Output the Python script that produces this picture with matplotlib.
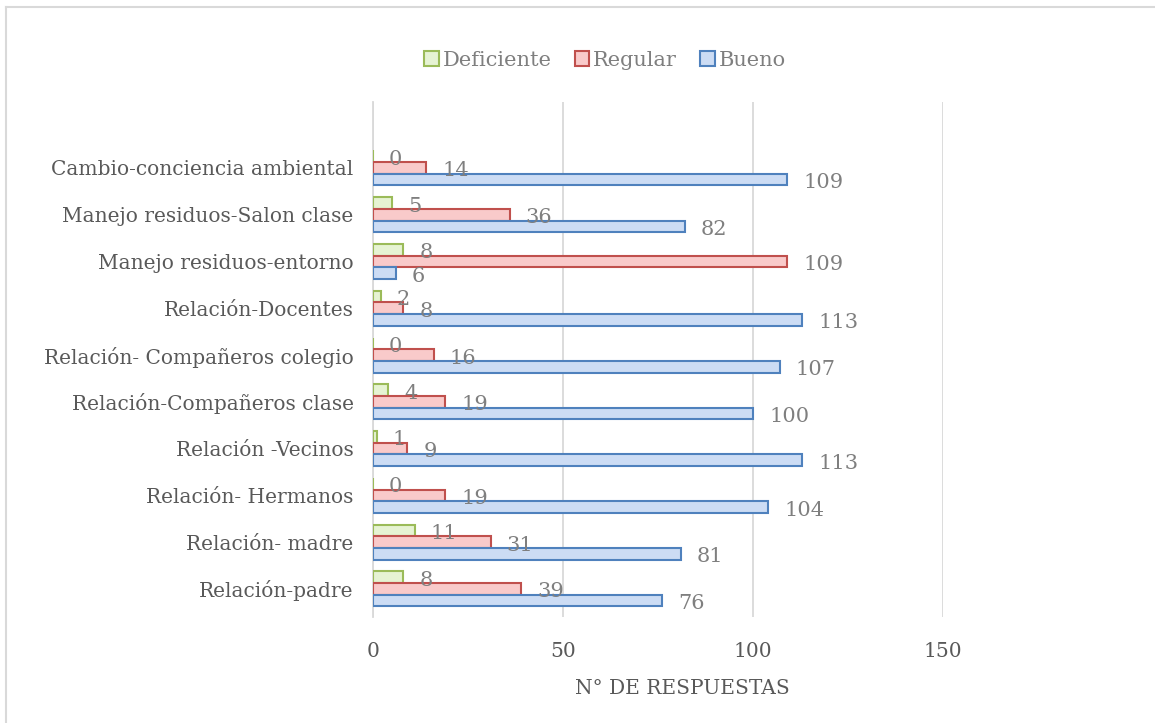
import matplotlib.pyplot as plt
import numpy as np
from matplotlib.patches import Rectangle
from matplotlib.lines import Line2D

categories = ['Relación-padre', 'Relación- madre', 'Relación- Hermanos', 'Relación -Vecinos',
              'Relación-Compañeros clase', 'Relación- Compañeros colegio', 'Relación-Docentes',
              'Manejo residuos-entorno', 'Manejo residuos-Salon clase', 'Cambio-conciencia ambiental']
deficiente = [8, 11, 0, 1, 4, 0, 2, 8, 5, 0]
regular = [39, 31, 19, 9, 19, 16, 8, 109, 36, 14]
bueno = [76, 81, 104, 113, 100, 107, 113, 6, 82, 109]
series_names = ['Deficiente', 'Regular', 'Bueno']
x_ticks = [0, 50, 100, 150]

plt.rcParams['font.family'] = ['DejaVu Serif']
text_color = '#595959'
label_color = '#7F7F7F'

fig = plt.figure(figsize=(11.55, 7.23), dpi=100)
ax = fig.add_axes([373 / 1155, 1 - 617 / 723, (943 - 373) / 1155, (617 - 102) / 723])

y = np.arange(len(categories))
h = 0.25
styles = [
    (deficiente, h, '#E6F3D3', '#9BBB59'),
    (regular, 0, '#F9CACA', '#C0504D'),
    (bueno, -h, '#CCDCF4', '#4F81BD'),
]
for (vals, off, fc, ec), name in zip(styles, series_names):
    bars = ax.barh(y + off, vals, height=h, color=fc, edgecolor=ec, linewidth=1.5, label=name, zorder=3)
    for b, v in zip(bars, vals):
        ax.annotate(str(v), (b.get_width(), b.get_y() + b.get_height() / 2),
                    xytext=(16, -3), textcoords='offset pixels', ha='left', va='center',
                    fontsize=15, color=label_color, zorder=4)

ax.set_xlim(0, 150)
ax.set_ylim(-0.6, 10.41)
ax.set_xticks(x_ticks)
ax.set_yticks(y)
ax.set_yticklabels(categories)
ax.tick_params(axis='both', length=0, labelsize=14.5, colors=text_color)
ax.tick_params(axis='x', pad=18)
ax.tick_params(axis='y', pad=14)
ax.grid(axis='x', color='#D9D9D9', linewidth=1.3, zorder=0)
for s in ['top', 'right', 'bottom']:
    ax.spines[s].set_visible(False)
ax.spines['left'].set_color('#D9D9D9')
ax.spines['left'].set_linewidth(1.3)

fig.text(682 / 1155, 1 - 688 / 723, 'N° DE RESPUESTAS', ha='center', va='center',
         fontsize=14.5, color=text_color)

handles = [Rectangle((0, 0), 1, 1, facecolor=fc, edgecolor=ec, linewidth=1.5)
           for _, _, fc, ec in styles]
fig.legend(handles, series_names, loc='center', bbox_to_anchor=(605 / 1155, 1 - 60 / 723),
           ncol=3, frameon=False, fontsize=15, labelcolor=label_color,
           handlelength=0.7, handleheight=0.7, handletextpad=0.2, columnspacing=1.1)

# chart border
fig.add_artist(Line2D([6 / 1155, 6 / 1155], [0, 1 - 7 / 723], transform=fig.transFigure,
                      color='#D9D9D9', linewidth=1.5))
fig.add_artist(Line2D([6 / 1155, 1], [1 - 7 / 723, 1 - 7 / 723], transform=fig.transFigure,
                      color='#D9D9D9', linewidth=1.5))

fig.savefig('out.png', dpi=100)
